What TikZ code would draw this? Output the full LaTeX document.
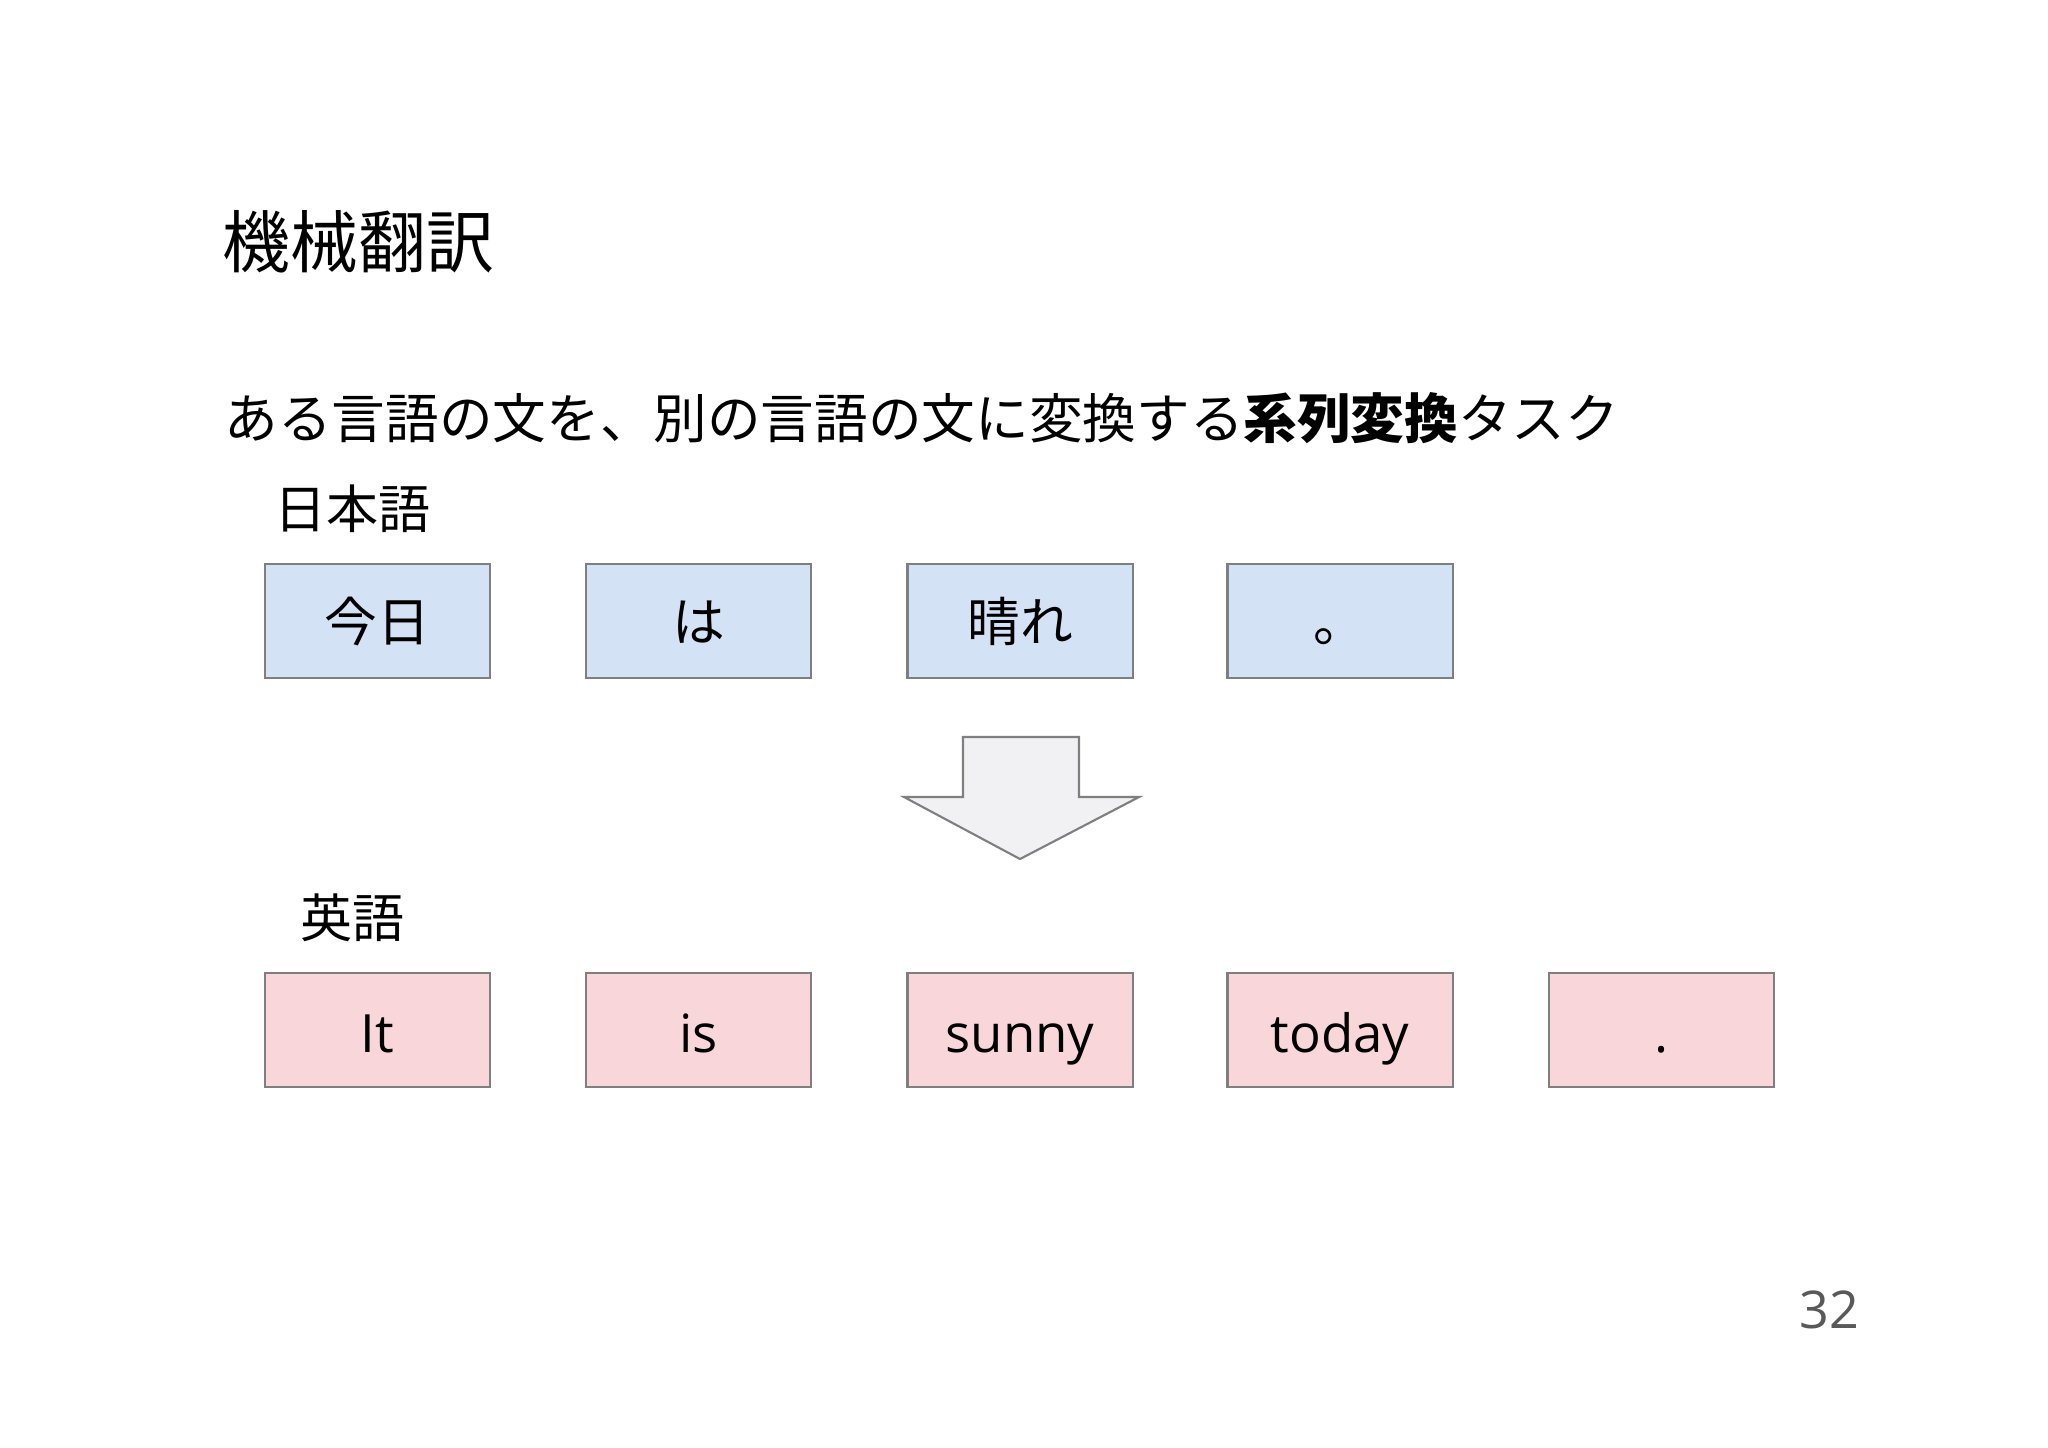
\documentclass[tikz,border=0pt]{standalone}
\usepackage{fontspec}
\setmainfont{Noto Sans CJK JP}
\newfontfamily\latinfont{Open Sans}
\definecolor{jpfill}{HTML}{D4E2F6}
\definecolor{enfill}{HTML}{F8D6D9}
\definecolor{boxline}{HTML}{7F7F7F}
\definecolor{arrowfill}{HTML}{F1F0F3}
\definecolor{pagegray}{HTML}{595959}
\begin{document}
\begin{tikzpicture}[x=0.01cm,y=-0.01cm,
  wordbox/.style={draw=boxline,line width=0.6pt,minimum width=2.25cm,minimum height=1.14cm,inner sep=0pt,anchor=center,font=\fontsize{15}{18}\selectfont},
  jpbox/.style={wordbox,fill=jpfill,text height=13.2pt,text depth=1.8pt},
  enbox/.style={wordbox,fill=enfill,font=\fontsize{15}{18}\selectfont\latinfont,text height=16pt,text depth=3pt},
  label/.style={anchor=west,inner sep=0pt,font=\fontsize{14.8}{18}\selectfont}]
\useasboundingbox (0,0) rectangle (2048,1447);
\fill[white] (0,0) rectangle (2048,1447);
\node[anchor=west,inner sep=0pt,font=\fontsize{19.3}{23}\selectfont] (title) at (222,242) {機械翻訳};
\node[anchor=west,inner sep=0pt,font=\fontsize{15.25}{18}\selectfont] (sub) at (224,418) {ある言語の文を、別の言語の文に変換する\textbf{系列変換}タスク};
\node[label] (jplabel) at (274,509) {日本語};
\node[label] (enlabel) at (300,918) {英語};
\node[jpbox] (j1) at (377.5,621) {今日};
\node[jpbox] (j2) at (698.5,621) {は};
\node[jpbox] (j3) at (1020,621) {晴れ};
\node[jpbox] (j4) at (1340,621) {。};
\node[enbox] (e1) at (377.5,1030) {It};
\node[enbox] (e2) at (698.5,1030) {is};
\node[enbox] (e3) at (1020,1030) {sunny};
\node[enbox] (e4) at (1340,1030) {today};
\node[enbox] (e5) at (1661.5,1030) {.};
\draw[draw=boxline,line width=0.6pt,fill=arrowfill] (963,737) -- (1079,737) -- (1079,797) -- (1139,797) -- (1020,859) -- (904,797) -- (963,797) -- cycle;
\node[anchor=center,inner sep=0pt,text=pagegray,font=\fontsize{14.8}{18}\selectfont\latinfont] (page) at (1829,1310) {32};
\end{tikzpicture}
\end{document}
